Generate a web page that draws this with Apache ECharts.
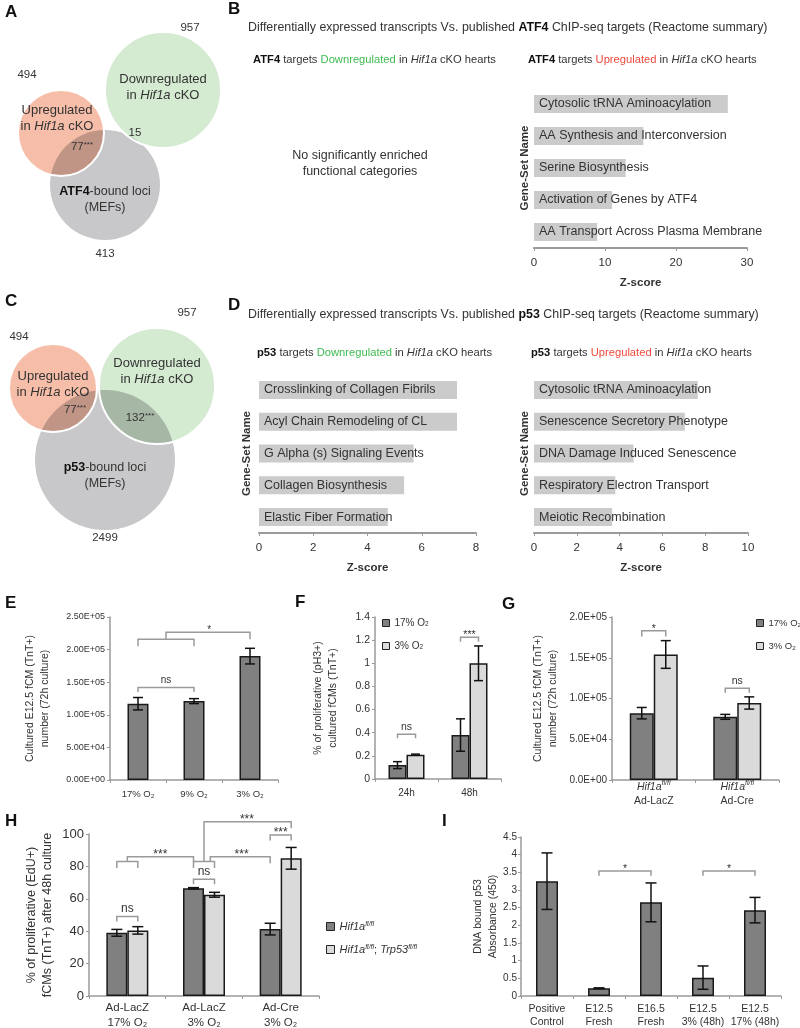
<!DOCTYPE html>
<html><head><meta charset="utf-8">
<script src="https://cdn.jsdelivr.net/npm/echarts@6/dist/echarts.min.js"></script>
<style>html,body{margin:0;padding:0;background:#fff}#c{width:800px;height:1028px}</style>
</head><body><div id="c"></div>
<script>
// ---------------- DATA ----------------
const vennACounts = ['957', '494', '413'];          // down, up, bound
const vennAOverlaps = ['77', '15'];                  // up∩bound, down∩bound
const vennCCounts = ['957', '494', '2499'];
const vennCOverlaps = ['77', '132'];

const bCats = ['Cytosolic tRNA Aminoacylation', 'AA Synthesis and Interconversion', 'Serine Biosynthesis', 'Activation of Genes by ATF4', 'AA Transport Across Plasma Membrane'];
const bZ = [27.3, 15.4, 12.9, 11.0, 8.9];

const dDownCats = ['Crosslinking of Collagen Fibrils', 'Acyl Chain Remodeling of CL', 'G Alpha (s) Signaling Events', 'Collagen Biosynthesis', 'Elastic Fiber Formation'];
const dDownZ = [7.3, 7.3, 5.7, 5.35, 4.75];
const dUpCats = ['Cytosolic tRNA Aminoacylation', 'Senescence Secretory Phenotype', 'DNA Damage Induced Senescence', 'Respiratory Electron Transport', 'Meiotic Recombination'];
const dUpZ = [7.65, 7.05, 4.65, 3.8, 3.65];

const eCats = ['17% O₂', '9% O₂', '3% O₂'];
const eMean = [117000, 121000, 190000];
const eErr = [9500, 3800, 12000];

const fCats = ['24h', '48h'];
const f17 = [0.12, 0.38];
const f17Err = [0.03, 0.14];
const f3 = [0.21, 1.0];
const f3Err = [0.005, 0.15];

const gCats = ['Ad-LacZ', 'Ad-Cre'];
const g17 = [82000, 77500];
const g17Err = [7000, 3000];
const g3 = [154000, 94500];
const g3Err = [17000, 7500];

const hCats = ['Ad-LacZ\n17% O₂', 'Ad-LacZ\n3% O₂', 'Ad-Cre\n3% O₂'];
const hFl = [39, 66.5, 41.3];
const hFlErr = [2.1, 0.4, 3.6];
const hTrp = [40.5, 62.5, 85];
const hTrpErr = [2.3, 1.5, 6.7];

const iCats = ['Positive\nControl', 'E12.5\nFresh', 'E16.5\nFresh', 'E12.5\n3% (48h)', 'E12.5\n17% (48h)'];
const iVals = [3.25, 0.22, 2.65, 0.52, 2.43];
const iErr = [0.8, 0.01, 0.55, 0.33, 0.36];

// significance brackets: points are [category position, bar slot (-1 dark / 0 centre / +1 light), value]
const eBrackets = [
  {pts: [[0,0,135e3],[0,0,142e3],[1,0,142e3],[1,0,135e3]], text: 'ns', at: [0.5, 142e3]},
  {pts: [[0,0,205e3],[0,0,216e3],[1,0,216e3],[1,0,205e3]]},
  {pts: [[0.5,0,216e3],[0.5,0,226.5e3],[2,0,226.5e3],[2,0,216e3]], text: '*', at: [1.27, 226.5e3]}
];
const fBrackets = [
  {pts: [[0,-1,0.352],[0,-1,0.386],[0,1,0.386],[0,1,0.352]], text: 'ns', at: [0, 0.386]},
  {pts: [[1,-1,1.186],[1,-1,1.224],[1,1,1.224],[1,1,1.186]], text: '***', at: [1, 1.224]}
];
const gBrackets = [
  {pts: [[0,-1,176e3],[0,-1,183e3],[0,1,183e3],[0,1,176e3]], text: '*', at: [0, 183e3]},
  {pts: [[1,-1,107e3],[1,-1,112.5e3],[1,1,112.5e3],[1,1,107e3]], text: 'ns', at: [1, 112.5e3]}
];
const hBrackets = [
  {pts: [[0,-1,46],[0,-1,49],[0,1,49],[0,1,46]], text: 'ns', at: [0, 49]},
  {pts: [[1,-1,69],[1,-1,72],[1,1,72],[1,1,69]], text: 'ns', at: [1, 72]},
  {pts: [[0,-1,79],[0,-1,83],[0,1,83],[0,1,79]]},
  {pts: [[1,-1,79],[1,-1,83],[1,1,83],[1,1,79]]},
  {pts: [[0,0,83],[0,0,86],[1,-1,86],[1,-1,83]], text: '***', at: [0.43, 86]},
  {pts: [[1,0.6,83],[1,0.6,86],[2,-1,86],[2,-1,82]], text: '***', at: [1.49, 86]},
  {pts: [[1,0,83],[1,0,107.5],[2,1,107.5],[2,1,103.5]], text: '***', at: [1.56, 107.5]},
  {pts: [[2,-1,96],[2,-1,99.4],[2,1,99.4],[2,1,96]], text: '***', at: [2, 99.4]}
];
const iBrackets = [
  {pts: [[1,0,3.40],[1,0,3.54],[2,0,3.54],[2,0,3.40]], text: '*', at: [1.5, 3.54]},
  {pts: [[3,0,3.40],[3,0,3.54],[4,0,3.54],[4,0,3.40]], text: '*', at: [3.5, 3.54]}
];

// ---------------- STYLE ----------------
const FONT = '"Liberation Sans", Arial, Helvetica, sans-serif';
const DARK = '#808080', LIGHT = '#dadada', EDGE = '#1a1a1a', AX = '#9a9a9a', TXT = '#333';
const PINK = '#f6bea9', GREEN = '#d4ead1', GRAY = '#c8c8ca', HBAR = '#cbcbcb';

function sci(digits) {
  return v => {
    const s = Number(v).toExponential(digits).split('e');
    const e = parseInt(s[1], 10);
    return s[0] + 'E' + (e < 0 ? '-' : '+') + String(Math.abs(e)).padStart(2, '0');
  };
}

function errSeries(gi, means, errs, slot, barW, capW) {
  return {
    type: 'custom', xAxisIndex: gi, yAxisIndex: gi, z: 5, silent: true, clip: false,
    data: means.map((m, i) => [i, m, errs[i]]),
    renderItem(params, api) {
      const i = api.value(0), m = api.value(1), e = api.value(2);
      const x = api.coord([i, m])[0] + slot * barW / 2;
      const yt = api.coord([i, m + e])[1], yb = api.coord([i, m - e])[1];
      const st = {stroke: '#111', lineWidth: 1.5};
      return {type: 'group', children: [
        {type: 'line', shape: {x1: x, y1: yt, x2: x, y2: yb}, style: st},
        {type: 'line', shape: {x1: x - capW, y1: yt, x2: x + capW, y2: yt}, style: st},
        {type: 'line', shape: {x1: x - capW, y1: yb, x2: x + capW, y2: yb}, style: st}
      ]};
    }
  };
}

function bracketSeries(gi, brackets, barW, fs) {
  return {
    type: 'custom', xAxisIndex: gi, yAxisIndex: gi, z: 6, silent: true, clip: false,
    data: brackets.map(b => [Math.round(b.pts[0][0]), b.pts[0][2]]),
    renderItem(params, api) {
      const b = brackets[params.dataIndex];
      const band = api.size([1, 0])[0];
      const P = (x, slot, y) => {
        const r = Math.round(x);
        const c = api.coord([r, y]);
        return [c[0] + (x - r) * band + slot * barW / 2, c[1]];
      };
      const children = [{
        type: 'polyline', shape: {points: b.pts.map(p => P(p[0], p[1], p[2]))},
        style: {stroke: AX, lineWidth: 1.5, fill: null}
      }];
      if (b.text) {
        const t = P(b.at[0], 0, b.at[1]);
        const star = b.text.indexOf('*') >= 0;
        children.push({type: 'text', x: t[0], y: t[1] - 2,
          style: {text: b.text, fontFamily: FONT, fontSize: fs, fill: TXT, align: 'center',
                  verticalAlign: star ? 'middle' : 'bottom'}});
      }
      return {type: 'group', children};
    }
  };
}

const hbarX = (gi, max, interval) => ({
  gridIndex: gi, type: 'value', min: 0, max, interval, splitLine: {show: false},
  axisLine: {show: true, lineStyle: {color: AX, width: 2}},
  axisTick: {show: true, length: 3, lineStyle: {color: AX}},
  axisLabel: {color: TXT, fontSize: 11.5, margin: 9, fontFamily: FONT},
  name: 'Z-score', nameLocation: 'middle', nameGap: 29, nameMoveOverlap: false,
  nameTextStyle: {fontWeight: 'bold', fontSize: 11.5, color: TXT, fontFamily: FONT}
});
const hbarY = (gi, cats, gap) => ({
  gridIndex: gi, type: 'category', data: cats, inverse: true,
  axisLine: {show: false}, axisTick: {show: false}, axisLabel: {show: false}, splitLine: {show: false},
  name: 'Gene-Set Name', nameLocation: 'middle', nameRotate: 90, nameGap: gap, nameMoveOverlap: false,
  nameTextStyle: {fontWeight: 'bold', fontSize: 11.5, color: TXT, fontFamily: FONT}
});
const hbarS = (gi, vals) => ({
  type: 'bar', xAxisIndex: gi, yAxisIndex: gi, data: vals, barWidth: 18, silent: true,
  itemStyle: {color: HBAR},
  label: {show: true, position: 'insideLeft', distance: 5, formatter: '{b}', color: TXT, fontSize: 12.5, fontFamily: FONT}
});

const catX = (gi, cats, fs, margin, extra) => Object.assign({
  gridIndex: gi, type: 'category', data: cats,
  axisLine: {show: true, lineStyle: {color: AX, width: 1.5}},
  axisTick: {show: true, length: 3, alignWithLabel: false, lineStyle: {color: AX}},
  axisLabel: {color: TXT, fontSize: fs, margin, fontFamily: FONT, lineHeight: fs + 3, interval: 0},
  splitLine: {show: false}
}, extra || {});
const valY = (gi, max, interval, fs, fmt, name, gap, nfs, margin) => ({
  gridIndex: gi, type: 'value', min: 0, max, interval, splitLine: {show: false},
  axisLine: {show: true, lineStyle: {color: AX, width: 1.5}},
  axisTick: {show: true, length: 3, lineStyle: {color: AX}},
  axisLabel: {color: TXT, fontSize: fs, margin: margin || 5, fontFamily: FONT, formatter: fmt},
  name, nameLocation: 'middle', nameRotate: 90, nameGap: gap, nameMoveOverlap: false,
  nameTextStyle: {fontSize: nfs, lineHeight: nfs + 4, color: TXT, fontFamily: FONT}
});
const barS = (gi, name, vals, color, w) => ({
  type: 'bar', name, xAxisIndex: gi, yAxisIndex: gi, data: vals, barWidth: w, barGap: '0%', silent: true,
  itemStyle: {color, borderColor: EDGE, borderWidth: 1.5}
});

// ---------------- TEXT HELPERS ----------------
const T = (x, y, text, o) => ({type: 'text', x, y, silent: true,
  style: Object.assign({text, fontFamily: FONT, fontSize: 11.5, fill: TXT, align: 'left', verticalAlign: 'middle'}, o || {})});
const R = (fs) => ({
  n: {fontFamily: FONT, fontSize: fs, fill: TXT},
  b: {fontFamily: FONT, fontSize: fs, fill: '#111', fontWeight: 'bold'},
  i: {fontFamily: FONT, fontSize: fs, fill: TXT, fontStyle: 'italic'},
  g: {fontFamily: FONT, fontSize: fs, fill: '#3fba50'},
  r: {fontFamily: FONT, fontSize: fs, fill: '#f04a3c'},
  s: {fontFamily: FONT, fontSize: fs * 0.7, fill: TXT, verticalAlign: 'top'}
});
const circ = (cx, cy, r, fill, blend) => ({type: 'circle', silent: true, shape: {cx, cy, r},
  style: blend ? {fill, blend} : {fill}});
const ring = (cx, cy, r) => ({type: 'circle', silent: true, shape: {cx, cy, r},
  style: {fill: 'none', stroke: '#fff', lineWidth: 2}});

const letters = [['A', 5, 12], ['B', 228, 9], ['C', 5, 301], ['D', 228, 305], ['E', 5, 603],
                 ['F', 295, 602], ['G', 502, 604], ['H', 5, 821], ['I', 442, 821]];

const graphic = [];
// Venn A
graphic.push(circ(105, 185, 55, GRAY), circ(61, 133, 43, PINK, 'multiply'), circ(163, 90, 58, GREEN, 'multiply'),
  ring(61, 133, 43), ring(163, 90, 58));
graphic.push(
  T(190, 28, vennACounts[0], {align: 'center'}),
  T(27, 75, vennACounts[1], {align: 'center'}),
  T(105, 254, vennACounts[2], {align: 'center'}),
  T(163, 87, '{n|Downregulated}\n{n|in }{i|Hif1a}{n| cKO}', {align: 'center', rich: R(13), lineHeight: 16}),
  T(57, 118, '{n|Upregulated}\n{n|in }{i|Hif1a}{n| cKO}', {align: 'center', rich: R(13), lineHeight: 16}),
  T(82, 147, '{n|' + vennAOverlaps[0] + '}{s|***}', {align: 'center', rich: R(11.5)}),
  T(135, 133, vennAOverlaps[1], {align: 'center', fontSize: 11.5}),
  T(105, 200, '{b|ATF4}{n|-bound loci}\n{n|(MEFs)}', {align: 'center', rich: R(12.5), lineHeight: 16})
);
// Venn C
graphic.push(circ(105, 460, 70, GRAY), circ(53, 388, 44, PINK, 'multiply'), circ(157, 386, 58, GREEN, 'multiply'),
  ring(53, 388, 44), ring(157, 386, 58));
graphic.push(
  T(187, 313, vennCCounts[0], {align: 'center'}),
  T(19, 337, vennCCounts[1], {align: 'center'}),
  T(105, 538, vennCCounts[2], {align: 'center'}),
  T(157, 371, '{n|Downregulated}\n{n|in }{i|Hif1a}{n| cKO}', {align: 'center', rich: R(13), lineHeight: 16}),
  T(53, 384, '{n|Upregulated}\n{n|in }{i|Hif1a}{n| cKO}', {align: 'center', rich: R(13), lineHeight: 16}),
  T(75, 410, '{n|' + vennCOverlaps[0] + '}{s|***}', {align: 'center', rich: R(11.5)}),
  T(140, 418, '{n|' + vennCOverlaps[1] + '}{s|***}', {align: 'center', rich: R(11.5)}),
  T(105, 476, '{b|p53}{n|-bound loci}\n{n|(MEFs)}', {align: 'center', rich: R(12.5), lineHeight: 16})
);
// titles
graphic.push(
  T(248, 28, '{n|Differentially expressed transcripts Vs. published }{b|ATF4}{n| ChIP-seq targets (Reactome summary)}', {rich: R(12.4)}),
  T(253, 60, '{b|ATF4}{n| targets }{g|Downregulated}{n| in }{i|Hif1a}{n| cKO hearts}', {rich: R(11.2)}),
  T(528, 60, '{b|ATF4}{n| targets }{r|Upregulated}{n| in }{i|Hif1a}{n| cKO hearts}', {rich: R(11.2)}),
  T(360, 164, 'No significantly enriched\nfunctional categories', {align: 'center', fontSize: 12.5, lineHeight: 16}),
  T(248, 315, '{n|Differentially expressed transcripts Vs. published }{b|p53}{n| ChIP-seq targets (Reactome summary)}', {rich: R(12.4)}),
  T(257, 353, '{b|p53}{n| targets }{g|Downregulated}{n| in }{i|Hif1a}{n| cKO hearts}', {rich: R(11.2)}),
  T(531, 353, '{b|p53}{n| targets }{r|Upregulated}{n| in }{i|Hif1a}{n| cKO hearts}', {rich: R(11.2)})
);
letters.forEach(l => graphic.push(T(l[1], l[2], l[0], {fontSize: 17, fontWeight: 'bold', fill: '#111'})));

const H1 = 'Hif1a fl/fl', H2 = 'Hif1a fl/fl; Trp53 fl/fl';
const gRich = {
  i: {fontFamily: FONT, fontSize: 10.5, fontStyle: 'italic', color: TXT, lineHeight: 14},
  s: {fontFamily: FONT, fontSize: 7, fontStyle: 'italic', color: TXT, verticalAlign: 'top', lineHeight: 14},
  n: {fontFamily: FONT, fontSize: 10.5, color: TXT, lineHeight: 14}
};
const o2Legend = (left, fs) => ({
  left, top: 618, orient: 'vertical', padding: 0, itemWidth: 7, itemHeight: 7, itemGap: 13, icon: 'rect',
  selectedMode: false, data: ['17% O₂', '3% O₂'],
  formatter: n => '{n|' + n.replace('₂', '') + '}{s|2}',
  textStyle: {fontSize: fs, color: TXT, fontFamily: FONT, rich: {
    n: {fontFamily: FONT, fontSize: fs, color: TXT},
    s: {fontFamily: FONT, fontSize: fs * 0.65, color: TXT, verticalAlign: 'bottom'}}},
  itemStyle: {borderColor: '#222', borderWidth: 1}
});

const option = {
  animation: false,
  backgroundColor: '#fff',
  textStyle: {fontFamily: FONT},
  grid: [
    {left: 534, top: 88, width: 213, height: 160, outerBoundsMode: 'none'},
    {left: 259, top: 374, width: 217, height: 159, outerBoundsMode: 'none'},
    {left: 534, top: 374, width: 214, height: 159, outerBoundsMode: 'none'},
    {left: 110, top: 617, width: 168, height: 163, outerBoundsMode: 'none'},
    {left: 375, top: 617, width: 126, height: 162, outerBoundsMode: 'none'},
    {left: 612, top: 617, width: 167, height: 163, outerBoundsMode: 'none'},
    {left: 89, top: 834, width: 230, height: 162, outerBoundsMode: 'none'},
    {left: 521, top: 837, width: 260, height: 159, outerBoundsMode: 'none'}
  ],
  xAxis: [
    hbarX(0, 30, 10), hbarX(1, 8, 2), hbarX(2, 10, 2),
    catX(3, eCats, 9.5, 8),
    catX(4, fCats, 10, 8),
    catX(5, gCats, 10.5, 0, {axisLabel: {fontFamily: FONT, margin: 0, interval: 0,
      formatter: v => '{i|Hif1a}{s|fl/fl}\n{n|' + v + '}', rich: gRich}}),
    catX(6, hCats, 11.5, 5),
    catX(7, iCats, 10.5, 6)
  ],
  yAxis: [
    hbarY(0, bCats, 3), hbarY(1, dDownCats, 6), hbarY(2, dUpCats, 3),
    valY(3, 250000, 50000, 9, sci(2), 'Cultured E12.5 fCM (TnT+)\nnumber (72h culture)', 58, 10.5),
    valY(4, 1.4, 0.2, 10.5, null, '% of proliferative (pH3+)\ncultured fCMs (TnT+)', 35, 10.5),
    valY(5, 200000, 50000, 10, sci(1), 'Cultured E12.5 fCM (TnT+)\nnumber (72h culture)', 52, 10.5),
    valY(6, 100, 20, 13, null, '% of proliferative (EdU+)\nfCMs (TnT+) after 48h culture', 33, 12.5),
    valY(7, 4.5, 0.5, 10, null, 'DNA bound p53\nAbsorbance (450)', 21, 10.5, 4)
  ],
  legend: [
    o2Legend(382, 10),
    o2Legend(756, 9.5),
    {left: 326, top: 921, orient: 'vertical', padding: 0, itemWidth: 8, itemHeight: 8, itemGap: 12, icon: 'rect',
     selectedMode: false, data: [H1, H2],
     formatter: n => n === H1 ? '{i|Hif1a}{s|fl/fl}' : '{i|Hif1a}{s|fl/fl}{n|; }{i|Trp53}{s|fl/fl}',
     textStyle: {fontSize: 11, color: TXT, fontFamily: FONT, rich: {
       i: {fontFamily: FONT, fontSize: 11, fontStyle: 'italic', color: TXT},
       s: {fontFamily: FONT, fontSize: 7, fontStyle: 'italic', color: TXT, verticalAlign: 'top'},
       n: {fontFamily: FONT, fontSize: 11, color: TXT}}},
     itemStyle: {borderColor: '#222', borderWidth: 1}}
  ],
  series: [
    hbarS(0, bZ), hbarS(1, dDownZ), hbarS(2, dUpZ),
    barS(3, 'E', eMean, DARK, 21), errSeries(3, eMean, eErr, 0, 21, 5), bracketSeries(3, eBrackets, 21, 10),
    barS(4, '17% O₂', f17, DARK, 18), barS(4, '3% O₂', f3, LIGHT, 18),
    errSeries(4, f17, f17Err, -1, 18, 4.5), errSeries(4, f3, f3Err, 1, 18, 4.5), bracketSeries(4, fBrackets, 18, 10.5),
    barS(5, '17% O₂', g17, DARK, 24), barS(5, '3% O₂', g3, LIGHT, 24),
    errSeries(5, g17, g17Err, -1, 24, 5), errSeries(5, g3, g3Err, 1, 24, 5), bracketSeries(5, gBrackets, 24, 10.5),
    barS(6, H1, hFl, DARK, 21), barS(6, H2, hTrp, LIGHT, 21),
    errSeries(6, hFl, hFlErr, -1, 21, 5.5), errSeries(6, hTrp, hTrpErr, 1, 21, 5.5), bracketSeries(6, hBrackets, 21, 12),
    barS(7, 'I', iVals, DARK, 22), errSeries(7, iVals, iErr, 0, 22, 5.5), bracketSeries(7, iBrackets, 22, 10.5)
  ],
  graphic
};

const chart = echarts.init(document.getElementById('c'), null, {renderer: 'canvas'});
chart.setOption(option);
</script>
</body></html>
